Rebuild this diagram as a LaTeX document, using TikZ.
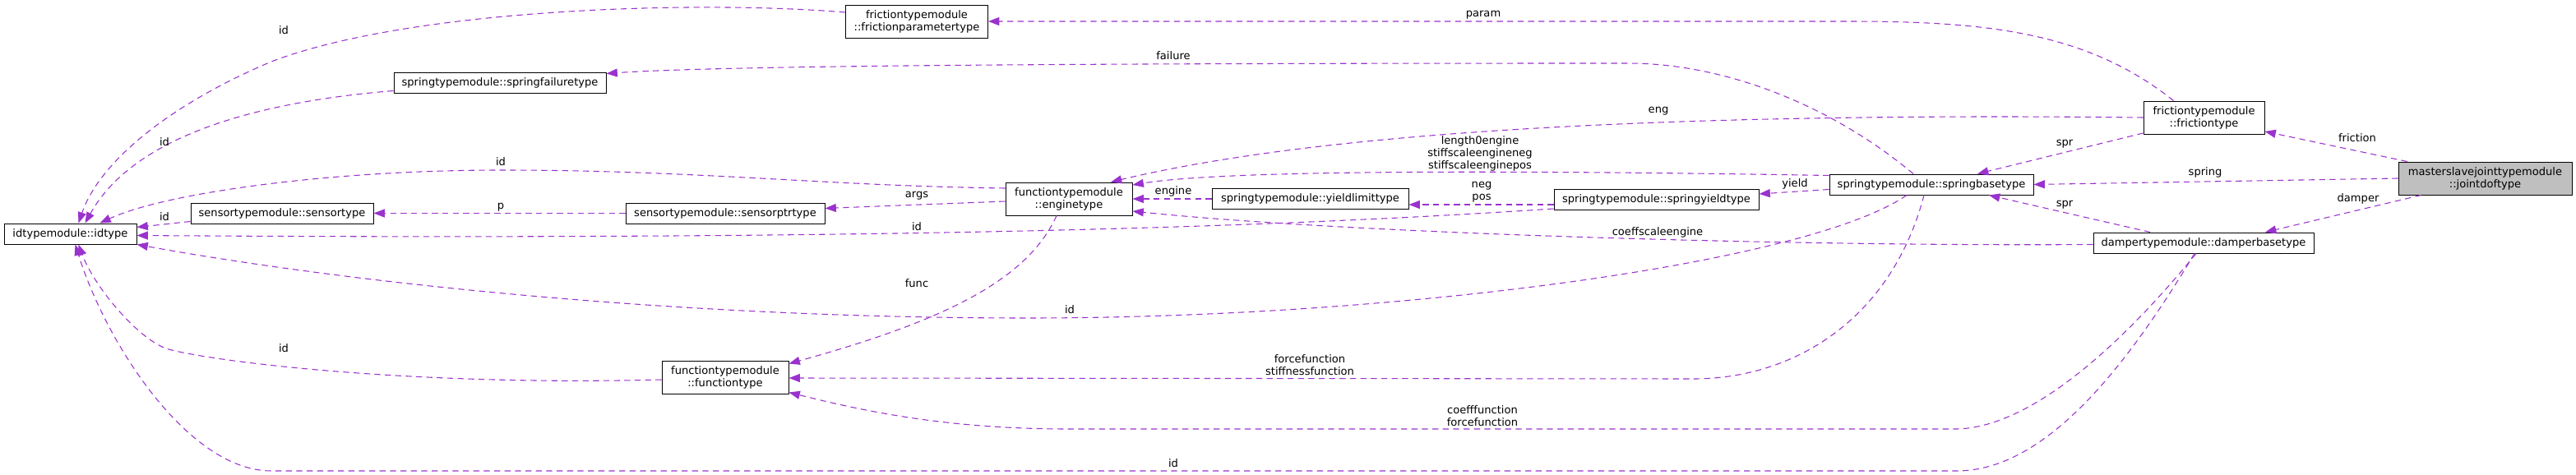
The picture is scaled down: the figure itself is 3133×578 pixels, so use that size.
\documentclass[tikz,border=0pt]{standalone}
\usepackage{fontspec}
\setmainfont{DejaVu Sans}
\usetikzlibrary{arrows.meta,calc}
\definecolor{usecol}{HTML}{9A32CD}
\definecolor{jointgray}{HTML}{BFBFBF}
\tikzset{
  cls/.style={draw=black, line width=0.75pt, fill=white, inner sep=0pt, align=center,
    font=\fontsize{9.8pt}{11.25pt}\selectfont, minimum height=18.75pt},
  cls2/.style={cls, minimum height=30pt},
  usage/.style={draw=usecol, line width=0.8pt, dash pattern=on 5.5pt off 4pt,
    -{Triangle[length=10pt,width=7.5pt]}, fill=none},
  lab/.style={inner sep=0pt, align=center, font=\fontsize{9.8pt}{11.25pt}\selectfont}
}
\begin{document}
\begin{tikzpicture}[x=0.75pt, y=-0.75pt]
\useasboundingbox (0,0) rectangle (3133,578);
% classes
\node[cls, minimum width=120.75pt] (idtype) at (85.5,284.5) {idtypemodule::idtype};
\node[cls, minimum width=166.5pt] (sensortype) at (343,259.5) {sensortypemodule::sensortype};
\node[cls, minimum width=193.5pt] (sprfail) at (608,100.5) {springtypemodule::springfailuretype};
\node[cls2, minimum width=129.75pt] (fricparam) at (1115,26) {frictiontypemodule\\::frictionparametertype};
\node[cls, minimum width=181.5pt] (sensorptr) at (882,259.5) {sensortypemodule::sensorptrtype};
\node[cls2, minimum width=115.5pt] (engine) at (1300,242) {functiontypemodule\\::enginetype};
\node[cls2, minimum width=115.5pt] (functype) at (882,459) {functiontypemodule\\::functiontype};
\node[cls, minimum width=179.25pt] (yieldlim) at (1593.5,242) {springtypemodule::yieldlimittype};
\node[cls, minimum width=186.75pt] (spryield) at (2014.5,243) {springtypemodule::springyieldtype};
\node[cls, minimum width=186pt] (sprbase) at (2349,224.5) {springtypemodule::springbasetype};
\node[cls2, minimum width=110.25pt] (frictype) at (2680.5,143) {frictiontypemodule\\::frictiontype};
\node[cls2, minimum width=158.25pt, fill=jointgray] (joint) at (3022.5,217) {masterslavejointtypemodule\\::jointdoftype};
\node[cls, minimum width=201pt] (damper) at (2680,295.5) {dampertypemodule::damperbasetype};

% usage edges
\draw[usage] ($(fricparam.west)+(0,-11)$) .. controls (850,0) and (500,10) .. (330,75)
  .. controls (200,130) and (120,200) .. ($(idtype.north)+(10,0)$);
\draw[usage] ($(sprfail.west)+(0,10)$) .. controls (300,125) and (160,170) .. ($(idtype.north)+(18,0)$);
\draw[usage] ($(engine.west)+(0,-13)$) .. controls (1000,226) and (850,207) .. (609,207)
  .. controls (400,207) and (200,235) .. ($(idtype.north)+(36,0)$);
\draw[usage] ($(sensortype.west)+(0,10)$) -- ($(idtype.east)+(0,-8)$);
\draw[usage] (sensorptr.west) -- (sensortype.east);
\draw[usage] ($(spryield.west)+(0,11)$) .. controls (1500,280) and (1000,292) .. ($(idtype.east)+(0,2)$);
\draw[usage] ($(engine.west)+(0,3)$) -- ($(sensorptr.east)+(0,-6)$);
\draw[usage] ($(engine.south)+(-15,0)$) .. controls (1250,340) and (1150,390) .. ($(functype.north east)+(0,4)$);
\draw[usage] ($(functype.west)+(0,3)$) .. controls (500,470) and (260,440) .. (205,425)
  .. controls (170,415) and (115,350) .. ($(idtype.south)+(10,0)$);
\draw[usage] (yieldlim.west) -- (engine.east);
\draw[usage] ($(spryield.west)+(0,6)$) -- ($(yieldlim.east)+(0,7)$);
\draw[usage] ($(sprbase.west)+(0,6)$) -- ($(spryield.east)+(0,-7)$);
\draw[usage] ($(sprbase.west)+(0,-11)$) .. controls (1900,208) and (1500,205) .. ($(engine.east)+(0,-17)$);
\draw[usage] (frictype.west) .. controls (2150,138) and (1650,150) .. ($(engine.north)+(51,0)$);
\draw[usage] ($(sprbase.north)+(-22,0)$) .. controls (2230,130) and (2100,77) .. (1980,77)
  .. controls (1500,77) and (900,78) .. ($(sprfail.east)+(0,-11)$);
\draw[usage] ($(frictype.north)+(-37,0)$) .. controls (2540,40) and (2420,26) .. (2250,26) -- (fricparam.east);
\draw[usage] ($(frictype.west)+(0,19)$) -- ($(sprbase.north)+(56,0)$);
\draw[usage] ($(joint.north west)+(11,0)$) -- ($(frictype.east)+(0,17)$);
\draw[usage] (joint.west) -- (sprbase.east);
\draw[usage] ($(joint.south)+(-78,0)$) -- ($(damper.north)+(75,0)$);
\draw[usage] ($(damper.north)+(-65,0)$) -- ($(sprbase.south)+(70,0)$);
\draw[usage] ($(damper.west)+(0,2)$) .. controls (2200,300) and (1650,285) .. ($(engine.east)+(0,15)$);
\draw[usage] ($(sprbase.south)+(-30,0)$) .. controls (2200,320) and (1700,387) .. (1250,387)
  .. controls (800,387) and (400,340) .. (idtype.south east);
\draw[usage] ($(sprbase.south)+(-9,0)$) .. controls (2300,390) and (2180,461) .. (2060,461) -- ($(functype.east)+(0,1)$);
\draw[usage] ($(damper.south)+(-9,0)$) .. controls (2580,420) and (2470,520) .. (2380,522) -- (1300,522)
  .. controls (1150,522) and (1050,500) .. ($(functype.south east)+(0,-2)$);
\draw[usage] ($(damper.south)+(-11,0)$) .. controls (2590,440) and (2490,573) .. (2380,573) -- (330,573)
  .. controls (230,573) and (130,420) .. ($(idtype.south)+(6,0)$);

% edge labels
\node[lab] (l1) at (345,37) {id};
\node[lab] (l2) at (200,173) {id};
\node[lab] (l3) at (609,197) {id};
\node[lab] (l4) at (200,264) {id};
\node[lab] (l5) at (609,252) {p};
\node[lab] (l6) at (1115,276) {id};
\node[lab] (l7) at (1115,238) {args};
\node[lab] (l8) at (1115,345) {func};
\node[lab] (l9) at (345,424) {id};
\node[lab] (l10) at (1427,233) {engine};
\node[lab] (l11) at (1802,234) {neg\\pos};
\node[lab] (l12) at (2183,224) {yield};
\node[lab] (l13) at (1800,187) {length0engine\\stiffscaleengineneg\\stiffscaleenginepos};
\node[lab] (l14) at (2017,135) {eng};
\node[lab] (l15) at (1427,68) {failure};
\node[lab] (l16) at (1804,18) {param};
\node[lab] (l17) at (2511,175) {spr};
\node[lab] (l18) at (2867,168) {friction};
\node[lab] (l19) at (2682,210) {spring};
\node[lab] (l20) at (2868,242) {damper};
\node[lab] (l21) at (2511,249) {spr};
\node[lab] (l22) at (2016,283) {coeffscaleengine};
\node[lab] (l23) at (1301,377) {id};
\node[lab] (l24) at (1593,444) {forcefunction\\stiffnessfunction};
\node[lab] (l25) at (1803,506) {coefffunction\\forcefunction};
\node[lab] (l26) at (1427,564) {id};
\end{tikzpicture}
\end{document}
